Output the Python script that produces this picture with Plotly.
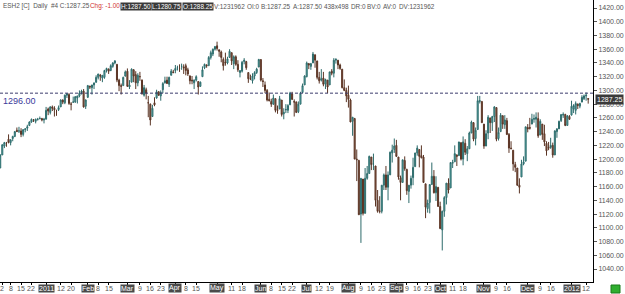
import pandas as pd
import plotly.graph_objects as go

# ---------------- data ----------------
holidays = ["2010-12-24", "2011-01-17", "2011-02-21", "2011-04-22", "2011-05-30",
            "2011-07-04", "2011-09-05", "2011-11-24", "2011-12-26", "2012-01-02"]
days = [d.strftime("%Y-%m-%d") for d in pd.bdate_range("2010-12-01", "2012-01-13")
        if d.strftime("%Y-%m-%d") not in holidays]

ohlc_rows = """
1187 1207 1187 1206|1206 1221 1206 1221|1219 1225 1216 1224|1223 1225 1218 1223|1229 1236 1223 1224
1224 1229 1220 1228|1230 1234 1226 1233|1233 1241 1232 1240|1242 1246 1240 1240|1241 1247 1238 1241
1241 1245 1232 1236|1236 1243 1233 1243|1243 1245 1239 1244|1245 1250 1241 1247|1249 1255 1248 1254
1254 1259 1253 1258|1257 1258 1254 1257|1255 1259 1252 1258|1258 1260 1256 1258|1259 1262 1258 1259
1259 1260 1255 1257|1257 1260 1252 1258
1258 1276 1258 1271|1273 1275 1264 1270|1268 1277 1265 1276|1276 1278 1270 1274|1274 1277 1262 1272
1270 1272 1263 1270|1272 1278 1270 1275|1276 1287 1276 1286|1286 1287 1280 1283|1282 1294 1280 1293
1293 1296 1289 1295|1294 1296 1279 1281|1280 1283 1271 1280|1283 1291 1282 1283|1283 1291 1282 1291
1289 1292 1281 1292|1292 1300 1290 1296|1297 1301 1294 1299|1299 1302 1275 1276|1277 1287 1273 1286
1290 1308 1289 1307|1306 1307 1302 1305|1304 1308 1294 1308|1308 1311 1302 1311|1312 1322 1311 1319
1319 1324 1316 1324|1322 1324 1314 1321|1318 1322 1312 1322|1319 1330 1317 1329|1329 1333 1326 1332
1331 1332 1324 1328|1329 1338 1328 1336|1335 1341 1333 1340|1340 1344 1338 1343|1338 1338 1312 1315
1315 1317 1299 1307|1307 1310 1294 1306|1307 1320 1307 1319|1321 1329 1320 1327
1328 1332 1305 1306|1305 1315 1302 1308|1312 1332 1312 1331|1330 1331 1312 1321|1323 1328 1302 1311
1311 1325 1306 1322|1320 1327 1314 1320|1315 1316 1294 1295|1293 1308 1291 1304|1301 1304 1287 1296
1282 1292 1261 1282|1280 1281 1249 1257|1262 1279 1262 1274|1282 1290 1277 1279|1289 1301 1288 1298
1298 1299 1292 1293|1292 1300 1285 1297|1301 1312 1296 1310|1311 1320 1310 1314|1315 1320 1310 1310
1309 1320 1305 1319|1322 1331 1322 1328|1327 1330 1325 1326
1329 1337 1325 1332|1333 1336 1329 1333|1332 1338 1327 1332|1335 1339 1330 1335|1334 1338 1324 1333
1336 1339 1322 1329|1330 1333 1321 1324|1321 1322 1309 1314|1315 1321 1309 1314|1311 1316 1302 1315
1315 1322 1313 1320|1313 1313 1294 1305|1306 1313 1305 1312|1320 1335 1320 1330|1333 1339 1331 1338
1337 1338 1333 1336|1336 1350 1336 1348|1348 1358 1345 1355|1353 1361 1350 1360|1360 1364 1358 1364
1365 1371 1358 1361|1359 1360 1349 1357|1356 1358 1341 1348|1345 1348 1329 1336|1341 1355 1336 1340
1340 1349 1338 1346|1348 1360 1348 1357|1355 1355 1337 1343|1339 1351 1331 1349|1349 1351 1336 1338
1338 1344 1327 1330|1326 1329 1319 1329|1328 1343 1326 1341|1342 1347 1338 1344|1342 1343 1330 1333
1326 1326 1311 1317|1317 1323 1315 1317|1314 1325 1310 1321|1321 1328 1316 1326|1326 1333 1324 1331
1334 1346 1334 1345
1345 1345 1313 1315|1314 1318 1305 1313|1308 1313 1296 1300|1300 1302 1284 1286|1287 1297 1284 1285
1284 1288 1276 1280|1280 1294 1279 1289|1288 1288 1268 1271|1272 1278 1266 1271|1273 1292 1273 1288
1286 1286 1262 1265|1266 1274 1258 1268|1272 1280 1267 1272|1271 1280 1267 1278|1279 1298 1279 1296
1295 1298 1286 1287|1284 1287 1262 1283|1283 1284 1267 1268|1269 1284 1267 1280|1280 1298 1280 1296
1297 1310 1297 1307|1308 1322 1308 1321
1320 1342 1319 1340|1339 1340 1331 1337|1335 1340 1330 1339|1340 1356 1340 1353|1352 1352 1333 1344
1343 1343 1316 1319|1319 1327 1310 1314|1315 1331 1313 1317|1318 1327 1306 1309|1309 1317 1302 1316
1315 1315 1296 1305|1308 1327 1308 1327|1328 1331 1322 1325|1325 1347 1319 1344|1344 1347 1339 1345
1344 1344 1331 1337|1337 1339 1330 1332|1331 1331 1303 1304|1304 1316 1299 1300|1300 1304 1283 1292
1293 1307 1275 1287|1286 1288 1254 1254|1255 1261 1234 1261|1259 1260 1200 1200|1200 1214 1168 1199
1198 1199 1119 1119|1120 1172 1078 1172|1171 1171 1118 1121|1121 1187 1121 1172|1172 1190 1170 1179
1179 1205 1179 1204|1203 1203 1184 1192|1193 1208 1184 1193|1190 1190 1131 1140|1140 1155 1122 1124
1124 1146 1121 1124|1124 1162 1121 1162|1162 1179 1155 1177|1177 1190 1155 1159|1159 1182 1140 1177
1177 1211 1177 1210|1209 1221 1195 1213|1214 1230 1209 1219
1220 1228 1203 1204|1203 1203 1170 1174|1173 1176 1140 1166|1166 1199 1166 1199|1198 1204 1183 1186
1185 1186 1148 1154|1153 1162 1136 1162|1162 1176 1157 1172|1173 1202 1162 1188|1189 1209 1189 1209
1209 1220 1205 1216|1214 1214 1188 1204|1205 1220 1201 1202|1203 1206 1166 1166|1164 1164 1114 1130
1128 1141 1122 1136|1137 1163 1121 1163|1163 1195 1163 1175|1175 1184 1150 1151|1151 1175 1139 1160
1159 1159 1131 1131
1131 1138 1098 1099|1097 1125 1067 1124|1124 1146 1116 1144|1144 1165 1134 1165|1165 1172 1150 1155
1158 1195 1158 1195|1194 1199 1187 1195|1196 1220 1196 1208|1206 1207 1190 1204|1205 1225 1205 1225
1224 1224 1198 1200|1200 1233 1191 1225|1223 1229 1206 1210|1208 1219 1197 1215|1215 1240 1215 1238
1238 1256 1238 1254|1253 1254 1226 1229|1230 1246 1220 1242|1243 1292 1243 1285|1284 1292 1281 1285
1284 1284 1253 1253
1251 1251 1215 1219|1219 1242 1219 1237|1238 1264 1229 1261|1260 1260 1238 1253|1253 1263 1241 1262
1262 1277 1254 1276|1275 1275 1226 1229|1230 1246 1227 1239|1240 1267 1240 1264|1263 1264 1244 1251
1250 1264 1244 1257|1256 1260 1235 1236|1236 1238 1209 1216|1216 1226 1215 1215|1213 1213 1183 1193
1192 1196 1181 1188|1187 1187 1161 1162|1162 1172 1150 1159|1174 1199 1174 1193|1193 1204 1191 1196
1197 1247 1197 1247
1246 1251 1239 1244|1246 1260 1243 1245|1251 1266 1251 1258|1258 1265 1253 1259|1258 1268 1246 1261
1259 1268 1231 1234|1235 1258 1235 1255|1251 1251 1228 1236|1237 1250 1219 1225|1223 1226 1205 1212
1217 1225 1213 1216|1217 1231 1215 1220|1220 1224 1202 1206|1206 1242 1206 1241|1240 1245 1231 1244
1244 1256 1244 1255|1256 1265 1254 1265|1264 1268 1260 1265|1265 1266 1248 1249|1249 1264 1249 1263
1262 1264 1257 1258
1264 1285 1264 1277|1273 1280 1267 1278|1271 1284 1265 1281|1280 1281 1273 1278|1277 1282 1274 1281
1283 1293 1283 1290|1288 1294 1286 1292|1292 1297 1285 1293|1288.25 1288.25 1280.75 1287.25
"""
rows = [r.split() for line in ohlc_rows.strip().splitlines() for r in line.split("|")]
opens = [float(r[0]) for r in rows]
highs = [float(r[1]) for r in rows]
lows = [float(r[2]) for r in rows]
closes = [float(r[3]) for r in rows]
assert len(rows) == len(days), (len(rows), len(days))

ref_level = 1296.00
last_price = 1287.25

tick_dates = ["2010-12-02", "2010-12-08", "2010-12-15", "2010-12-22", "2011-01-03", "2011-01-12",
              "2011-01-20", "2011-02-01", "2011-02-08", "2011-02-15", "2011-03-01", "2011-03-09",
              "2011-03-16", "2011-03-23", "2011-04-01", "2011-04-08", "2011-04-15", "2011-05-02",
              "2011-05-11", "2011-05-18", "2011-06-01", "2011-06-08", "2011-06-15", "2011-06-22",
              "2011-07-01", "2011-07-12", "2011-07-19", "2011-08-01", "2011-08-09", "2011-08-16",
              "2011-08-23", "2011-09-01", "2011-09-09", "2011-09-16", "2011-09-23", "2011-10-03",
              "2011-10-11", "2011-10-18", "2011-11-01", "2011-11-09", "2011-11-16", "2011-12-01",
              "2011-12-09", "2011-12-16", "2012-01-03", "2012-01-12"]
tick_texts = ["2", "8", "15", "22", "2011", "12", "20", "Feb", "8", "15", "Mar", "9", "16", "23",
              "Apr", "8", "15", "May", "11", "18", "Jun", "8", "15", "22", "Jul", "12", "19", "Aug",
              "9", "16", "23", "Sep", "9", "16", "23", "Oct", "11", "18", "Nov", "9", "16", "Dec",
              "9", "16", "2012", "12"]
boxed = {"2011", "2012", "Feb", "Mar", "Apr", "May", "Jun", "Jul", "Aug", "Sep", "Oct", "Nov", "Dec"}

header_items = ["ESH2 [C]  Daily  #4 C:1287.25", "Chg: -1.00", "H:1287.50", "L:1280.75",
                "O:1288.25", "V:1231962", "OI:0", "B:1287.25", "A:1287.50", "438x498", "DR:0",
                "BV:0", "AV:0", "DV:1231962"]

# ---------------- figure ----------------
W, H = 625, 294
ML, MR, MT, MB = 0, 32, 0, 12
PW, PH = W - ML - MR, H - MT - MB
FONT = "Liberation Sans, Arial, sans-serif"

fig = go.Figure(go.Candlestick(
    x=days, open=opens, high=highs, low=lows, close=closes,
    increasing=dict(line=dict(color="#2d6b6b", width=1), fillcolor="#66c6c6"),
    decreasing=dict(line=dict(color="#5a3424", width=1), fillcolor="#93604a"),
    whiskerwidth=0, hoverinfo="skip", showlegend=False,
))

fig.add_shape(type="line", xref="paper", x0=0, x1=1, yref="y", y0=ref_level, y1=ref_level,
              line=dict(color="#3c3c6c", width=1, dash="3px,2px"))

annotations = []
for d, t in zip(tick_dates, tick_texts):
    if t in boxed:
        annotations.append(dict(x=d, xref="x", y=-6 / PH, yref="paper", yanchor="middle",
                                text=t, showarrow=False, bgcolor="#4a4a4a", borderpad=0,
                                font=dict(family=FONT, size=7, color="#ffffff")))
    else:
        annotations.append(dict(x=d, xref="x", y=-6 / PH, yref="paper", yanchor="middle",
                                text=t, showarrow=False,
                                font=dict(family=FONT, size=7, color="#555555")))


def px_x(p):
    return p / PW


def px_y(p):
    return 1 - p / PH


hdr_y = px_y(6)
hdr_x = [2, 89, 120, 151, 182, 213, 246, 260, 291.5, 323, 349.5, 366, 382, 398]
hdr_col = ["#555555", "#d03030", "#ffffff", "#ffffff", "#ffffff"] + ["#555555"] * 9
hdr_bg = [None, None, "#3a3a3a", "#3a3a3a", "#3a3a3a"] + [None] * 9
for xp, txt, col, bg in zip(hdr_x, header_items, hdr_col, hdr_bg):
    a = dict(x=px_x(xp), xref="paper", y=hdr_y, yref="paper", xanchor="left", yanchor="middle",
             text=txt, showarrow=False, borderpad=0,
             font=dict(family=FONT, size=6.4, color=col))
    if bg:
        a["bgcolor"] = bg
    annotations.append(a)

annotations.append(dict(x=px_x(1), xref="paper", y=ref_level, yref="y", xanchor="left",
                        yanchor="top", yshift=-1, text=f"{ref_level:.2f}", showarrow=False,
                        font=dict(family=FONT, size=9, color="#3a3a9a")))
annotations.append(dict(x=px_x(595), xref="paper", y=last_price, yref="y", xanchor="left",
                        yanchor="middle", text=f"{last_price:.2f}", showarrow=False,
                        bgcolor="#3a3a3a", borderpad=1,
                        font=dict(family=FONT, size=7, color="#ffffff")))

fig.add_shape(type="rect", xref="paper", yref="paper",
              x0=px_x(611), x1=px_x(620), y0=-3 / PH, y1=-11 / PH,
              fillcolor="#2fae2f", line=dict(color="#1a7a1a", width=1))

fig.update_layout(
    width=W, height=H, margin=dict(l=ML, r=MR, t=MT, b=MB),
    paper_bgcolor="white", plot_bgcolor="white",
    annotations=annotations,
    xaxis=dict(type="category", range=[-0.1, len(days) + 1.3], rangeslider=dict(visible=False),
               showgrid=False, zeroline=False, showline=True, linecolor="#000000", linewidth=1,
               tickmode="array", tickvals=tick_dates, ticktext=[""] * len(tick_dates),
               ticks="outside", ticklen=2, tickcolor="#000000", showticklabels=False),
    yaxis=dict(side="right", range=[1021.07, 1431.65], showgrid=False, zeroline=False,
               showline=True, linecolor="#000000", linewidth=1,
               tickmode="linear", tick0=1040, dtick=20, tickformat=".2f",
               ticks="outside", ticklen=3, tickcolor="#555555",
               tickfont=dict(family=FONT, size=7, color="#555555")),
)

fig.write_html("out.html")
